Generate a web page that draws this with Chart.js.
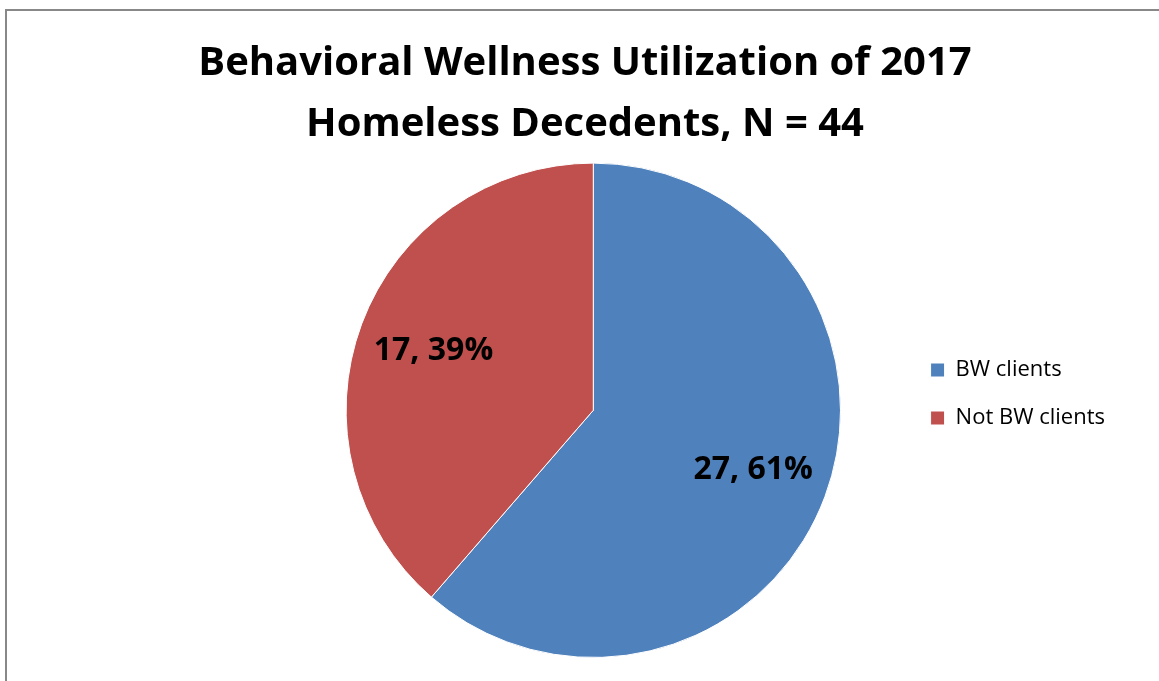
<!DOCTYPE html>
<html>
<head>
<meta charset="utf-8">
<script src="https://cdn.jsdelivr.net/npm/chart.js@4/dist/chart.umd.min.js"></script>
<style>
  html, body { margin: 0; padding: 0; background: #fff; }
  #frame { position: absolute; left: 5px; top: 9px; width: 1300px; height: 800px; border: 2px solid #888; }
  #wrap { position: absolute; left: 0; top: 0; width: 1159px; height: 681px; }
</style>
</head>
<body>
<div id="frame"></div>
<div id="wrap"><canvas id="pie"></canvas></div>
<script>
// data
const titleLines = ['Behavioral Wellness Utilization of 2017', 'Homeless Decedents, N = 44'];
const categories = ['BW clients', 'Not BW clients'];
const counts = [27, 17];
const colors = ['#4F81BD', '#C0504D'];

// "27, 61%" style labels inside the slices
const sliceLabels = {
  id: 'sliceLabels',
  afterDatasetsDraw(chart) {
    const ctx = chart.ctx;
    const meta = chart.getDatasetMeta(0);
    const total = counts.reduce((a, b) => a + b, 0);
    ctx.save();
    ctx.font = 'bold 32px "Open Sans"';
    ctx.fillStyle = '#000';
    ctx.textAlign = 'center';
    ctx.textBaseline = 'middle';
    meta.data.forEach((arc, i) => {
      const p = arc.getProps(['x', 'y', 'startAngle', 'endAngle', 'outerRadius'], true);
      const mid = (p.startAngle + p.endAngle) / 2;
      const r = p.outerRadius * 0.69;
      const txt = counts[i] + ', ' + Math.round(counts[i] / total * 100) + '%';
      ctx.fillText(txt, p.x + Math.cos(mid) * r, p.y + Math.sin(mid) * r);
    });
    ctx.restore();
  }
};

new Chart(document.getElementById('pie'), {
  type: 'pie',
  data: {
    labels: categories,
    datasets: [{
      data: counts,
      backgroundColor: colors,
      borderColor: '#fff',
      borderWidth: 1
    }]
  },
  options: {
    responsive: true,
    maintainAspectRatio: false,
    animation: false,
    layout: { padding: { left: 55, right: 44, top: 0, bottom: 23 } },
    plugins: {
      title: {
        display: true,
        text: titleLines,
        color: '#000',
        font: { family: 'Open Sans', size: 40, weight: 'bold', lineHeight: 1.52 },
        padding: { top: 33, bottom: 8 }
      },
      // empty box on the left, only there to push the pie right of the title centre
      subtitle: {
        display: true,
        position: 'left',
        text: '',
        font: { size: 10, lineHeight: 1 },
        padding: { top: 0, bottom: 217 }
      },
      legend: {
        position: 'right',
        fullSize: false,
        align: 'start',
        title: { display: true, text: '', font: { size: 12, lineHeight: 1.2 }, padding: { top: 0, bottom: 156 } },
        labels: {
          boxWidth: 14,
          boxHeight: 14,
          padding: 26,
          color: '#000',
          font: { family: 'Open Sans', size: 22 }
        }
      },
      tooltip: { enabled: false }
    }
  },
  plugins: [sliceLabels]
});
</script>
</body>
</html>
